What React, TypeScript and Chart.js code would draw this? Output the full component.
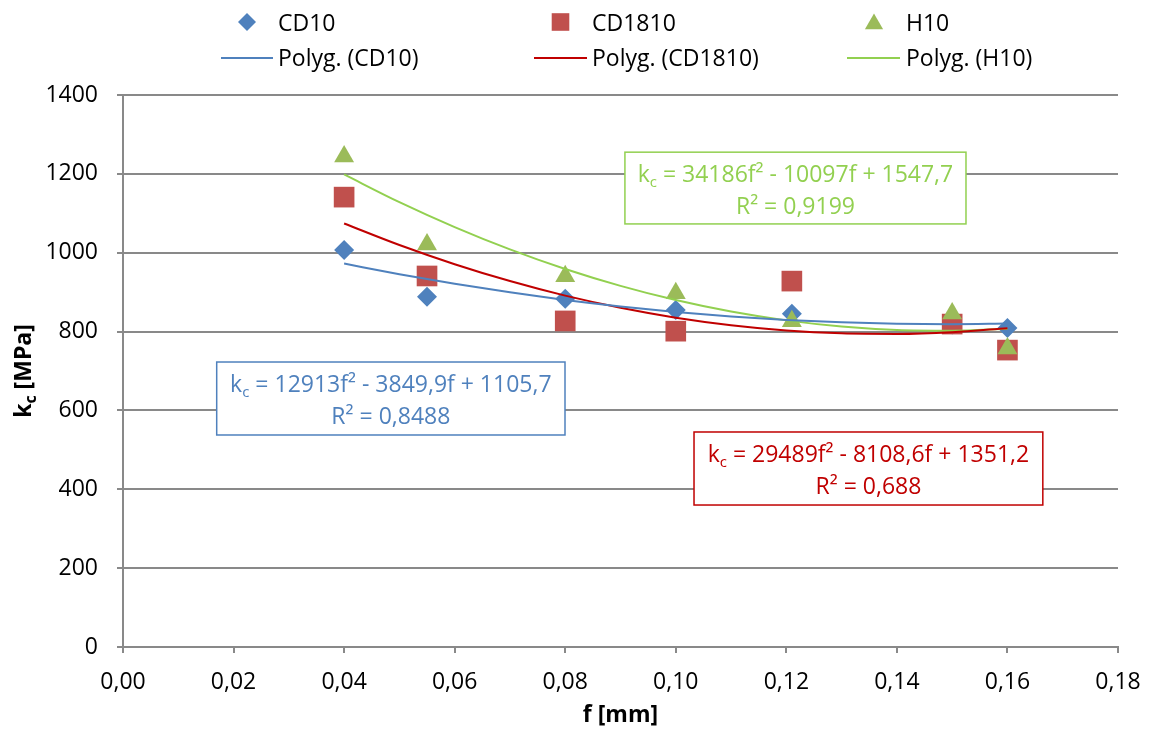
import React, { useEffect, useRef } from "react";
import { Chart, registerables } from "chart.js";

Chart.register(...registerables);

// ---- data ----
const feedRates = [0.04, 0.055, 0.08, 0.1, 0.121, 0.15, 0.16];
const cd10Values = [1007, 888, 883, 855, 845, 818, 809];
const cd1810Values = [1141, 941, 827, 801, 928, 819, 753];
const h10Values = [1244, 1021, 940, 897, 826, 846, 757];

const trendFeeds = [0.04, 0.05, 0.06, 0.07, 0.08, 0.09, 0.1, 0.11, 0.12, 0.13, 0.14, 0.15, 0.16];
const cd10Trend = [972.4, 945.5, 921.2, 899.5, 880.3, 863.8, 849.8, 838.4, 829.6, 823.4, 819.8, 818.7, 820.3];
const cd1810Trend = [1074.1, 1019.5, 970.9, 928.1, 891.2, 860.3, 835.2, 816.1, 802.8, 795.5, 794.0, 798.4, 808.7];
const h10Trend = [1198.5, 1128.3, 1065.0, 1008.4, 958.7, 915.9, 879.9, 850.7, 828.4, 812.8, 804.1, 802.3, 807.4];

const xTickValues = [0, 0.02, 0.04, 0.06, 0.08, 0.1, 0.12, 0.14, 0.16, 0.18];
const yTickValues = [0, 200, 400, 600, 800, 1000, 1200, 1400];

const seriesNames = ["CD10", "CD1810", "H10"];
const trendNames = ["Polyg. (CD10)", "Polyg. (CD1810)", "Polyg. (H10)"];
const equationTexts = [" = 12913f\u00B2 - 3849,9f + 1105,7", " = 29489f\u00B2 - 8108,6f + 1351,2", " = 34186f\u00B2 - 10097f + 1547,7"];
const rSquaredTexts = ["R\u00B2 = 0,8488", "R\u00B2 = 0,688", "R\u00B2 = 0,9199"];

// ---- styles ----
const FONT = "'Open Sans', 'DejaVu Sans', sans-serif";
const markerColors = ["#4F81BD", "#C0504D", "#9BBB59"];
const lineColors = ["#4F81BD", "#C00000", "#92D050"];
const gridColor = "#898989";

// equation boxes, in data coordinates
const eqBoxes = [
  { left: 0.01695, right: 0.07996, top: 722.8, bottom: 537.7 },
  { left: 0.1033, right: 0.1664, top: 545.3, bottom: 360.1 },
  { left: 0.0908, right: 0.1525, top: 1255, bottom: 1073 },
];

// legend layout (pixels)
const legendText = [278, 592, 906];
const legendMarker = [247, 560.5, 874];
const legendLine = [
  [221, 273],
  [534, 587],
  [847, 900],
];

function drawMarker(ctx: CanvasRenderingContext2D, kind: number, x: number, y: number, color: string) {
  ctx.save();
  ctx.fillStyle = color;
  ctx.beginPath();
  if (kind === 0) {
    const r = 9;
    ctx.moveTo(x, y - r);
    ctx.lineTo(x + r, y);
    ctx.lineTo(x, y + r);
    ctx.lineTo(x - r, y);
  } else if (kind === 1) {
    const s = 17.6;
    ctx.rect(x - s / 2, y - s / 2, s, s);
  } else {
    const r = 10.5;
    const cy = y + 2;
    ctx.moveTo(x, cy - r);
    ctx.lineTo(x + (r * Math.sqrt(3)) / 2, cy + r / 2);
    ctx.lineTo(x - (r * Math.sqrt(3)) / 2, cy + r / 2);
  }
  ctx.closePath();
  ctx.fill();
  ctx.restore();
}

const overlayPlugin = {
  id: "overlay",
  afterDatasetsDraw(chart: any) {
    const ctx: CanvasRenderingContext2D = chart.ctx;
    const xs = chart.scales.x;
    const ys = chart.scales.y;
    eqBoxes.forEach((b, i) => {
      const l = xs.getPixelForValue(b.left);
      const r = xs.getPixelForValue(b.right);
      const t = ys.getPixelForValue(b.top);
      const bt = ys.getPixelForValue(b.bottom);
      ctx.save();
      ctx.fillStyle = "#ffffff";
      ctx.fillRect(l, t, r - l, bt - t);
      ctx.strokeStyle = lineColors[i];
      ctx.lineWidth = 1.5;
      ctx.strokeRect(l, t, r - l, bt - t);
      ctx.fillStyle = lineColors[i];
      ctx.textBaseline = "alphabetic";
      ctx.textAlign = "left";
      const big = `23px ${FONT}`;
      const small = `15px ${FONT}`;
      ctx.font = big;
      const wk = ctx.measureText("k").width;
      const wRest = ctx.measureText(equationTexts[i]).width;
      ctx.font = small;
      const wc = ctx.measureText("c").width;
      const total = wk + wc + wRest;
      const cx = (l + r) / 2;
      let x0 = cx - total / 2;
      const base1 = t + 30;
      ctx.font = big;
      ctx.fillText("k", x0, base1);
      x0 += wk;
      ctx.font = small;
      ctx.fillText("c", x0, base1 + 5);
      x0 += wc;
      ctx.font = big;
      ctx.fillText(equationTexts[i], x0, base1);
      ctx.textAlign = "center";
      ctx.fillText(rSquaredTexts[i], cx, t + 62);
      ctx.restore();
    });
  },
  afterDraw(chart: any) {
    const ctx: CanvasRenderingContext2D = chart.ctx;
    const area = chart.chartArea;
    ctx.save();
    // legend
    ctx.font = `23px ${FONT}`;
    ctx.fillStyle = "#000";
    ctx.textBaseline = "alphabetic";
    ctx.textAlign = "left";
    for (let i = 0; i < 3; i++) {
      drawMarker(ctx, i, legendMarker[i], 22, markerColors[i]);
      ctx.fillStyle = "#000";
      ctx.fillText(seriesNames[i], legendText[i], 31);
      ctx.strokeStyle = lineColors[i];
      ctx.lineWidth = 2;
      ctx.beginPath();
      ctx.moveTo(legendLine[i][0], 58);
      ctx.lineTo(legendLine[i][1], 58);
      ctx.stroke();
      ctx.fillText(trendNames[i], legendText[i], 66);
    }
    // x title
    ctx.font = `bold 23px ${FONT}`;
    ctx.textAlign = "center";
    ctx.fillText("f [mm]", (area.left + area.right) / 2, 722);
    // y title
    ctx.translate(31, (area.top + area.bottom) / 2);
    ctx.rotate(-Math.PI / 2);
    const bold = `bold 23px ${FONT}`;
    const boldSmall = `bold 16px ${FONT}`;
    ctx.textAlign = "left";
    ctx.font = bold;
    const wk = ctx.measureText("k").width;
    const wr = ctx.measureText(" [MPa]").width;
    ctx.font = boldSmall;
    const wc = ctx.measureText("c").width;
    let x0 = -(wk + wc + wr) / 2;
    ctx.font = bold;
    ctx.fillText("k", x0, 0);
    x0 += wk;
    ctx.font = boldSmall;
    ctx.fillText("c", x0, 5);
    x0 += wc;
    ctx.font = bold;
    ctx.fillText(" [MPa]", x0, 0);
    ctx.restore();
  },
};

export default function App() {
  const canvasRef = useRef<HTMLCanvasElement | null>(null);

  useEffect(() => {
    if (!canvasRef.current) return;
    const toPoints = (xs: number[], ys: number[]) => xs.map((x, i) => ({ x, y: ys[i] }));
    const chart = new Chart(canvasRef.current, {
      type: "scatter",
      data: {
        datasets: [
          {
            label: seriesNames[0],
            data: toPoints(feedRates, cd10Values),
            pointStyle: "rectRot",
            pointRadius: 10,
            backgroundColor: markerColors[0],
            borderWidth: 0,
            order: 3,
          },
          {
            label: seriesNames[1],
            data: toPoints(feedRates, cd1810Values),
            pointStyle: "rect",
            pointRadius: 14.6,
            backgroundColor: markerColors[1],
            borderWidth: 0,
            order: 2,
          },
          {
            label: seriesNames[2],
            data: toPoints(feedRates, h10Values),
            pointStyle: "triangle",
            pointRadius: 11.5,
            backgroundColor: markerColors[2],
            borderWidth: 0,
            order: 1,
          },
          ...[cd10Trend, cd1810Trend, h10Trend].map((vals, i) => ({
            type: "line" as const,
            label: trendNames[i],
            data: toPoints(trendFeeds, vals),
            showLine: true,
            pointRadius: 0,
            borderColor: lineColors[i],
            borderWidth: 2,
            fill: false,
            cubicInterpolationMode: "monotone" as const,
            order: 0,
          })),
        ],
      },
      options: {
        responsive: false,
        animation: false,
        events: [],
        layout: { padding: { top: 95, right: 34, bottom: 0, left: 0 } },
        plugins: {
          legend: { display: false },
          tooltip: { enabled: false },
          title: { display: false },
        },
        scales: {
          x: {
            type: "linear",
            min: 0,
            max: 0.18,
            afterBuildTicks: (s: any) => {
              s.ticks = xTickValues.map((v) => ({ value: v }));
            },
            afterFit: (s: any) => {
              s.height = 84;
              s.paddingLeft = 0;
              s.paddingRight = 0;
            },
            grid: {
              display: true,
              drawOnChartArea: false,
              drawTicks: true,
              tickLength: 6,
              color: gridColor,
              lineWidth: 2,
            },
            border: { display: true, color: gridColor, width: 2 },
            ticks: {
              autoSkip: false,
              maxRotation: 0,
              padding: 16,
              color: "#000",
              font: { family: FONT, size: 23 },
              callback: (v: any) => Number(v).toFixed(2).replace(".", ","),
            },
          },
          y: {
            type: "linear",
            min: 0,
            max: 1400,
            afterBuildTicks: (s: any) => {
              s.ticks = yTickValues.map((v) => ({ value: v }));
            },
            afterFit: (s: any) => {
              s.width = 123;
              s.paddingTop = 0;
              s.paddingBottom = 0;
            },
            grid: {
              display: true,
              drawOnChartArea: true,
              drawTicks: true,
              tickLength: 6,
              color: gridColor,
              lineWidth: 2,
            },
            border: { display: true, color: gridColor, width: 2 },
            ticks: {
              padding: 19,
              color: "#000",
              font: { family: FONT, size: 23 },
              callback: (v: any) => String(v),
            },
          },
        },
      },
      plugins: [overlayPlugin],
    });
    return () => chart.destroy();
  }, []);

  return (
    <div style={{ position: "absolute", left: 0, top: 0, width: 1152, height: 731, background: "#fff" }}>
      <canvas ref={canvasRef} width={1152} height={731} style={{ display: "block" }} />
    </div>
  );
}
